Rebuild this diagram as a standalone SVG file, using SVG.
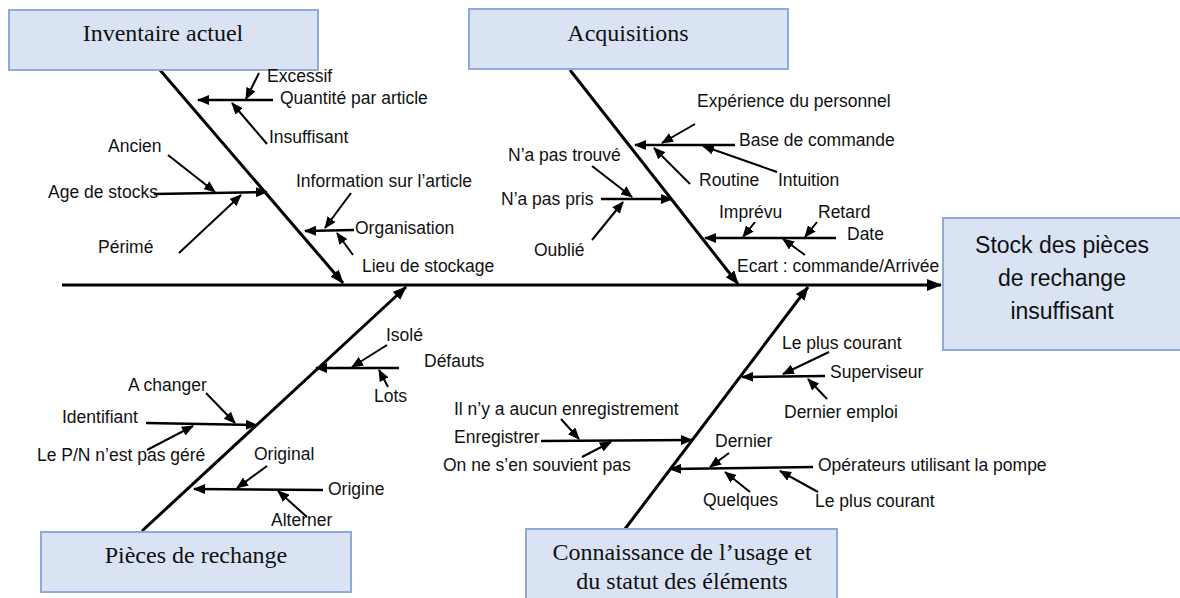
<svg xmlns="http://www.w3.org/2000/svg" width="1180" height="598" viewBox="0 0 1180 598">
  <style>
    .box { fill: #dae3f3; stroke: #8eaadb; stroke-width: 2; }
    .title { font-family: "Liberation Serif", "DejaVu Serif", serif; font-size: 24px; fill: #111; text-anchor: middle; }
    .effect { font-family: "Liberation Sans", Arial, sans-serif; font-size: 23px; fill: #111; text-anchor: middle; }
    .lbl { font-family: "Liberation Sans", Arial, sans-serif; font-size: 17.5px; fill: #111; }
    .spine { stroke: #000; stroke-width: 3; fill: none; }
    .bone { stroke: #000; stroke-width: 3; fill: none; }
    .rib { stroke: #000; stroke-width: 2.4; fill: none; }
    .twig { stroke: #000; stroke-width: 2; fill: none; }
  </style>
  <defs>
    <marker id="head-lg" markerUnits="userSpaceOnUse" markerWidth="15" markerHeight="12" refX="14" refY="6" orient="auto">
      <path d="M0,0 L15,6 L0,12 z" fill="#000"/>
    </marker>
    <marker id="head-md" markerUnits="userSpaceOnUse" markerWidth="14" markerHeight="11" refX="13" refY="5.5" orient="auto">
      <path d="M0,0 L14,5.5 L0,11 z" fill="#000"/>
    </marker>
    <marker id="head-sm" markerUnits="userSpaceOnUse" markerWidth="12" markerHeight="10" refX="11" refY="5" orient="auto">
      <path d="M0,0 L12,5 L0,10 z" fill="#000"/>
    </marker>
  </defs>

  <rect width="1180" height="598" fill="#fff"/>

  <!-- connectors: spine, category bones, ribs and twigs -->
  <g id="connectors">
    <path class="spine" d="M62,285 L941,285" marker-end="url(#head-lg)"/>

    <!-- Inventaire actuel -->
    <path class="bone" d="M160,70 L343,283" marker-end="url(#head-md)"/>
    <path class="rib" d="M273,100 L198,100" marker-end="url(#head-sm)"/>
    <path class="twig" d="M259,73 L246,99" marker-end="url(#head-sm)"/>
    <path class="twig" d="M267,144 L232,103" marker-end="url(#head-sm)"/>
    <path class="rib" d="M154,194 L267,192" marker-end="url(#head-sm)"/>
    <path class="twig" d="M168,155 L215,192" marker-end="url(#head-sm)"/>
    <path class="twig" d="M179,253 L241,195" marker-end="url(#head-sm)"/>
    <path class="rib" d="M354,230 L305,231" marker-end="url(#head-sm)"/>
    <path class="twig" d="M351,193 L325,228" marker-end="url(#head-sm)"/>
    <path class="twig" d="M353,255 L337,233" marker-end="url(#head-sm)"/>

    <!-- Acquisitions -->
    <path class="bone" d="M570,70 L738,284" marker-end="url(#head-md)"/>
    <path class="rib" d="M735,145 L635,145" marker-end="url(#head-sm)"/>
    <path class="twig" d="M695,124 L662,143" marker-end="url(#head-sm)"/>
    <path class="twig" d="M690,184 L654,148" marker-end="url(#head-sm)"/>
    <path class="twig" d="M777,172 L703,146" marker-end="url(#head-sm)"/>
    <path class="rib" d="M601,199 L672,199" marker-end="url(#head-sm)"/>
    <path class="twig" d="M592,166 L632,197" marker-end="url(#head-sm)"/>
    <path class="twig" d="M592,240 L623,202" marker-end="url(#head-sm)"/>
    <path class="rib" d="M836,238 L705,238" marker-end="url(#head-sm)"/>
    <path class="twig" d="M755,222 L743,237" marker-end="url(#head-sm)"/>
    <path class="twig" d="M817,222 L805,237" marker-end="url(#head-sm)"/>
    <path class="twig" d="M805,255 L783,239" marker-end="url(#head-sm)"/>

    <!-- Pièces de rechange -->
    <path class="bone" d="M142,531 L406,287" marker-end="url(#head-md)"/>
    <path class="rib" d="M399,368 L316,368" marker-end="url(#head-sm)"/>
    <path class="twig" d="M387,345 L352,367" marker-end="url(#head-sm)"/>
    <path class="twig" d="M388,387 L379,370" marker-end="url(#head-sm)"/>
    <path class="rib" d="M146,423 L257,425" marker-end="url(#head-sm)"/>
    <path class="twig" d="M206,393 L235,423" marker-end="url(#head-sm)"/>
    <path class="twig" d="M147,450 L193,426" marker-end="url(#head-sm)"/>
    <path class="rib" d="M323,490 L194,489" marker-end="url(#head-sm)"/>
    <path class="twig" d="M267,466 L237,488" marker-end="url(#head-sm)"/>
    <path class="twig" d="M307,517 L278,491" marker-end="url(#head-sm)"/>

    <!-- Connaissance de l'usage -->
    <path class="bone" d="M625,529 L808,287" marker-end="url(#head-md)"/>
    <path class="rib" d="M825,376 L742,377" marker-end="url(#head-sm)"/>
    <path class="twig" d="M829,352 L783,374" marker-end="url(#head-sm)"/>
    <path class="twig" d="M827,399 L808,379" marker-end="url(#head-sm)"/>
    <path class="rib" d="M541,441 L692,440" marker-end="url(#head-sm)"/>
    <path class="twig" d="M561,419 L579,439" marker-end="url(#head-sm)"/>
    <path class="twig" d="M582,457 L611,442" marker-end="url(#head-sm)"/>
    <path class="rib" d="M813,467 L670,469" marker-end="url(#head-sm)"/>
    <path class="twig" d="M729,453 L710,467" marker-end="url(#head-sm)"/>
    <path class="twig" d="M750,492 L725,472" marker-end="url(#head-sm)"/>
    <path class="twig" d="M818,492 L780,471" marker-end="url(#head-sm)"/>
  </g>

  <!-- category and effect nodes -->
  <g id="node-inventaire">
    <rect class="box" x="9" y="10" width="309" height="60"/>
    <text class="title" x="163" y="41">Inventaire actuel</text>
  </g>
  <g id="node-acquisitions">
    <rect class="box" x="469" y="9" width="319" height="60"/>
    <text class="title" x="628" y="41">Acquisitions</text>
  </g>
  <g id="node-pieces">
    <rect class="box" x="41" y="532" width="310" height="60"/>
    <text class="title" x="196" y="563">Pièces de rechange</text>
  </g>
  <g id="node-connaissance">
    <rect class="box" x="526" y="529" width="311" height="75"/>
    <text class="title" x="682" y="560">Connaissance de l’usage et</text>
    <text class="title" x="682" y="589">du statut des éléments</text>
  </g>
  <g id="node-effect">
    <rect class="box" x="943" y="218" width="240" height="132"/>
    <text class="effect" x="1062" y="253">Stock des pièces</text>
    <text class="effect" x="1062" y="286">de rechange</text>
    <text class="effect" x="1062" y="319">insuffisant</text>
  </g>

  <!-- cause labels -->
  <g id="labels-inventaire" class="lbl">
    <text x="267" y="82">Excessif</text>
    <text x="280" y="104">Quantité par article</text>
    <text x="269" y="143">Insuffisant</text>
    <text x="108" y="152">Ancien</text>
    <text x="48" y="198">Age de stocks</text>
    <text x="98" y="253">Périmé</text>
    <text x="296" y="187">Information sur l’article</text>
    <text x="355" y="234">Organisation</text>
    <text x="362" y="272">Lieu de stockage</text>
  </g>
  <g id="labels-acquisitions" class="lbl">
    <text x="697" y="107">Expérience du personnel</text>
    <text x="739" y="146">Base de commande</text>
    <text x="508" y="161">N’a pas trouvé</text>
    <text x="699" y="186">Routine</text>
    <text x="778" y="186">Intuition</text>
    <text x="501" y="205">N’a pas pris</text>
    <text x="534" y="256">Oublié</text>
    <text x="719" y="218">Imprévu</text>
    <text x="818" y="218">Retard</text>
    <text x="847" y="240">Date</text>
    <text x="737" y="272">Ecart : commande/Arrivée</text>
  </g>
  <g id="labels-pieces" class="lbl">
    <text x="386" y="341">Isolé</text>
    <text x="424" y="367">Défauts</text>
    <text x="374" y="402">Lots</text>
    <text x="128" y="391">A changer</text>
    <text x="62" y="423">Identifiant</text>
    <text x="37" y="461">Le P/N n’est pas géré</text>
    <text x="254" y="460">Original</text>
    <text x="328" y="495">Origine</text>
    <text x="271" y="526">Alterner</text>
  </g>
  <g id="labels-connaissance" class="lbl">
    <text x="782" y="349">Le plus courant</text>
    <text x="830" y="378">Superviseur</text>
    <text x="784" y="418">Dernier emploi</text>
    <text x="454" y="415">Il n’y a aucun enregistrement</text>
    <text x="454" y="443">Enregistrer</text>
    <text x="443" y="471">On ne s’en souvient pas</text>
    <text x="715" y="447">Dernier</text>
    <text x="818" y="471">Opérateurs utilisant la pompe</text>
    <text x="703" y="506">Quelques</text>
    <text x="815" y="507">Le plus courant</text>
  </g>
</svg>
